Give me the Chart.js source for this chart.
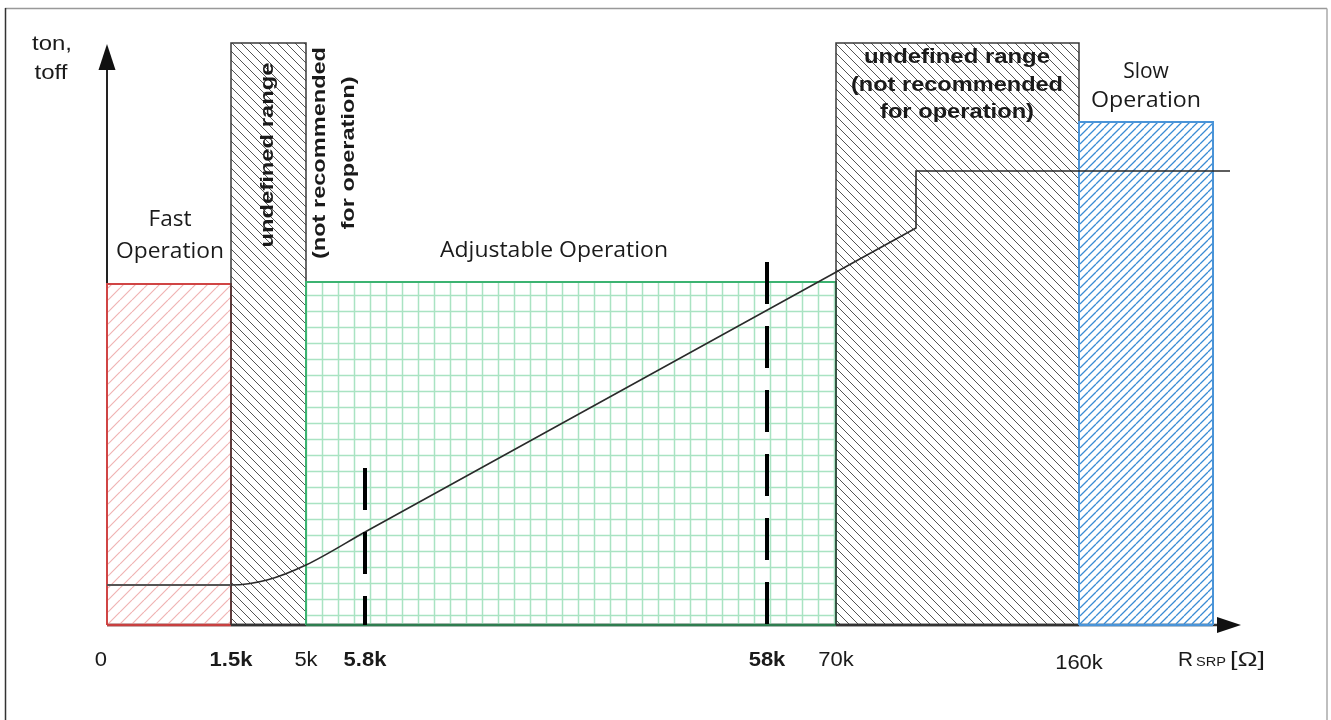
<!DOCTYPE html>
<html><head><meta charset="utf-8">
<script src="https://cdn.jsdelivr.net/npm/chart.js@4.4.1/dist/chart.umd.min.js"></script>
<style>html,body{margin:0;padding:0;background:#fff;overflow:hidden}canvas{display:block}</style>
</head><body>
<canvas id="c" width="1331" height="720"></canvas>
<script>
// Schematic (non-linear) resistance axis: tick positions are in axis units
const tickLabels = ['0', '1.5k', '5k', '5.8k', '58k', '70k', '160k'];
const tickPositions = [0, 12.4, 19.9, 25.8, 66.0, 72.9, 97.2];
const tickBold = [false, true, false, true, true, false, false];

// Operating regions
const regionNames = ['Fast Operation', 'undefined range', 'Adjustable Operation', 'undefined range', 'Slow Operation'];
const regionStart = [0, 12.4, 19.9, 72.9, 97.2];
const regionEnd = [12.4, 19.9, 72.9, 97.2, 110.6];
const regionTop = [34.1, 58.2, 34.3, 58.2, 50.3];

// ton/toff characteristic
const curveX = [0, 12.4, 16.0, 19.9, 25.8];
const curveY = [4.0, 4.0, 4.5, 6.0, 9.3];
const lineX = [25.8, 80.9, 80.9, 112.3];
const lineY = [9.3, 39.7, 45.4, 45.4];

// dashed markers at 5.8k and 58k
const markerX = [25.8, 66.0];
const markerTop = [15.7, 36.3];

const canvas = document.getElementById('c');
const ctx = canvas.getContext('2d');

function hatch(color, size, dir, lw) {
  const c = document.createElement('canvas'); c.width = c.height = size;
  const g = c.getContext('2d');
  g.strokeStyle = color; g.lineWidth = lw; g.beginPath();
  for (let k = -1; k <= 1; k++) {
    if (dir === '/') { g.moveTo(k * size, size); g.lineTo(k * size + size, 0); }
    else { g.moveTo(k * size, 0); g.lineTo(k * size + size, size); }
  }
  g.stroke();
  return ctx.createPattern(c, 'repeat');
}
function gridPat(color, size, lw, ox, oy) {
  const c = document.createElement('canvas'); c.width = c.height = size;
  const g = c.getContext('2d');
  g.strokeStyle = color; g.lineWidth = lw; g.beginPath();
  g.moveTo(ox, 0); g.lineTo(ox, size); g.moveTo(0, oy); g.lineTo(size, oy);
  g.stroke();
  return ctx.createPattern(c, 'repeat');
}

const fills = [
  hatch('#f0b4b4', 12, '/', 1.2),
  hatch('#555', 9, '\\', 1),
  gridPat('#a9e3c2', 16, 1.5, 2.5, 7.5),
  hatch('#555', 9, '\\', 1),
  hatch('#3a8cd4', 8, '/', 1.3)
];
const borders = ['#d04545', '#3a3a3a', '#3cb371', '#3a3a3a', '#4a94d8'];
const bottoms = ['#c84040', '#333', '#2e7d4f', '#333', '#4a94d8'];
const borderW = [2, 1.5, 2, 1.5, 2];
const orders = [15, 14, 13, 12, 11];

const datasets = [];
regionNames.forEach((n, i) => {
  datasets.push({
    label: n,
    data: [{x: regionStart[i], y: 0}, {x: regionStart[i], y: regionTop[i]}, {x: regionEnd[i], y: regionTop[i]}, {x: regionEnd[i], y: 0}, {x: regionStart[i], y: 0}],
    fill: 'origin', backgroundColor: fills[i], borderColor: borders[i], borderWidth: borderW[i],
    segment: { borderColor: s => s.p1DataIndex === 4 ? bottoms[i] : undefined, borderWidth: s => s.p1DataIndex === 4 ? 2.5 : undefined },
    pointRadius: 0, tension: 0, order: orders[i], clip: false
  });
});
datasets.push({
  label: 'curve', data: curveX.map((x, i) => ({x, y: curveY[i]})),
  borderColor: '#2a2a2a', borderWidth: 1.6, pointRadius: 0, fill: false,
  segment: { borderColor: s => s.p1DataIndex === 1 ? '#555' : undefined, borderWidth: s => s.p1DataIndex === 1 ? 2.2 : undefined },
  cubicInterpolationMode: 'monotone', order: 3, clip: false
});
datasets.push({
  label: 'line', data: lineX.map((x, i) => ({x, y: lineY[i]})),
  borderColor: '#2a2a2a', borderWidth: 1.6, pointRadius: 0, fill: false, tension: 0, order: 2, clip: false
});
markerX.forEach((mx, i) => {
  datasets.push({
    label: 'marker' + i, data: [{x: mx, y: markerTop[i]}, {x: mx, y: 0}],
    borderColor: '#000', borderWidth: 4, borderDash: [42, 22], pointRadius: 0, fill: false, order: 1, clip: false
  });
});

function fitText(c, text, x, y, font, width, align, rot, baseline) {
  c.save(); c.font = font;
  const w = c.measureText(text).width;
  c.translate(x, y); if (rot) c.rotate(rot);
  c.scale(width ? width / w : 1, 1);
  c.textAlign = align || 'center'; c.textBaseline = baseline || 'alphabetic';
  c.fillText(text, 0, 0); c.restore();
}

const overlay = {
  id: 'overlay',
  beforeDatasetsDraw(chart) {
    const c = chart.ctx, xs = chart.scales.x, ys = chart.scales.y;
    const x0 = xs.getPixelForValue(0), y0 = ys.getPixelForValue(0);
    c.save();
    c.strokeStyle = '#222'; c.fillStyle = '#111';
    c.lineWidth = 2;
    c.beginPath(); c.moveTo(x0, y0); c.lineTo(x0, 62); c.stroke();
    c.beginPath(); c.moveTo(x0, 44); c.lineTo(x0 - 8.5, 70); c.lineTo(x0 + 8.5, 70); c.closePath(); c.fill();
    c.strokeStyle = '#333'; c.lineWidth = 2.5;
    c.beginPath(); c.moveTo(x0, y0); c.lineTo(1222, y0); c.stroke();
    c.beginPath(); c.moveTo(1241, y0); c.lineTo(1217, y0 - 8); c.lineTo(1217, y0 + 8); c.closePath(); c.fill();
    c.restore();
  },
  afterDatasetsDraw(chart) {
    const c = chart.ctx, xs = chart.scales.x;
    c.save();
    // tick labels
    c.fillStyle = '#1a1a1a';
    tickLabels.forEach((t, i) => {
      const px = xs.getPixelForValue(tickPositions[i]);
      const font = (tickBold[i] ? 'bold ' : '') + '20px "Liberation Sans", Arial, sans-serif';
      c.save(); c.font = font; c.translate(px, t === '160k' ? 669 : 666); c.scale(1.1, 1);
      c.textAlign = i === 0 ? 'right' : 'center'; c.fillText(t, 0, 0); c.restore();
    });
    // axis titles
    fitText(c, 'R', 1178, 666, '20px "Liberation Sans", Arial', 15, 'left');
    fitText(c, 'SRP', 1196, 666, '12px "Liberation Sans", Arial', 30, 'left');
    fitText(c, '[\u03A9]', 1230, 666, '20px "Liberation Sans", Arial', 35, 'left');
    fitText(c, 'ton,', 52, 50, '21px "Liberation Sans", Arial', 40);
    fitText(c, 'toff', 51, 79, '21px "Liberation Sans", Arial', 33);

    // region labels
    const sf = '21px "Open Sans", "Noto Sans", sans-serif';
    fitText(c, 'Fast', 170, 226, sf, 43);
    fitText(c, 'Operation', 170, 258, sf, 108);
    fitText(c, 'Slow', 1146, 78, sf, 0);
    fitText(c, 'Operation', 1146, 107, sf, 110);
    fitText(c, 'Adjustable Operation', 554, 257, sf, 228);

    const bf = 'bold 21px "Liberation Sans", Arial, sans-serif';
    fitText(c, 'undefined range', 957, 63, bf, 186);
    fitText(c, '(not recommended', 957, 91, bf, 212);
    fitText(c, 'for operation)', 957, 118, bf, 154);

    const vf = 'bold 19px "Liberation Sans", Arial, sans-serif';
    fitText(c, 'undefined range', 268, 155, vf, 185, 'center', -Math.PI / 2, 'middle');
    fitText(c, '(not recommended', 320, 153, vf, 212, 'center', -Math.PI / 2, 'middle');
    fitText(c, 'for operation)', 349, 153, vf, 153, 'center', -Math.PI / 2, 'middle');

    // frame
    c.lineWidth = 1.5;
    c.strokeStyle = '#999';
    c.beginPath(); c.moveTo(5, 8.5); c.lineTo(1327, 8.5); c.stroke();
    c.strokeStyle = '#aaa';
    c.beginPath(); c.moveTo(1327, 8.5); c.lineTo(1327, 720); c.stroke();
    c.strokeStyle = '#333';
    c.beginPath(); c.moveTo(5.5, 8); c.lineTo(5.5, 720); c.stroke();
    c.restore();
  }
};

new Chart(canvas, {
  type: 'line',
  data: { datasets },
  options: {
    responsive: false, animation: false, devicePixelRatio: 1,
    layout: { padding: { left: 107, right: 93, top: 42, bottom: 95 } },
    scales: {
      x: { type: 'linear', min: 0, max: 113.1, display: false },
      y: { type: 'linear', min: 0, max: 58.3, display: false }
    },
    plugins: { legend: { display: false }, tooltip: { enabled: false } },
    events: []
  },
  plugins: [overlay]
});
</script>
</body></html>
